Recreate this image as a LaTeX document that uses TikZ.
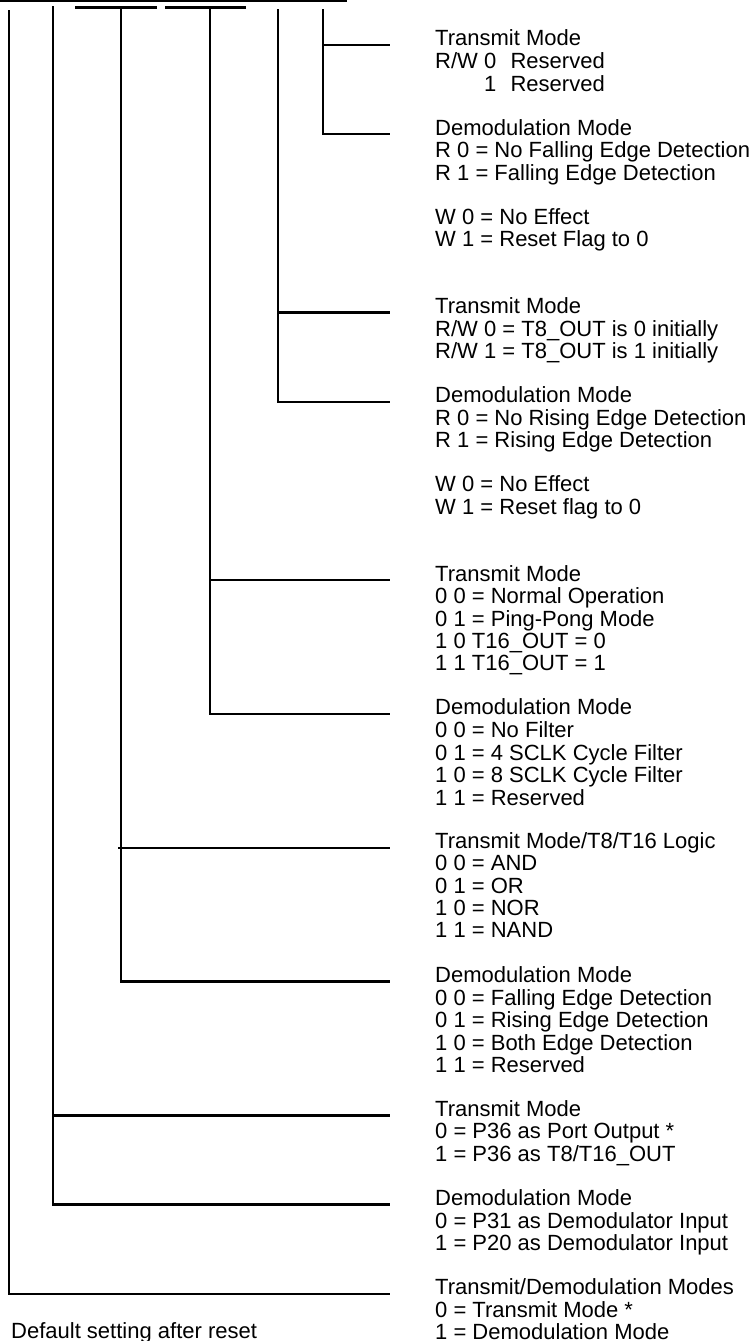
\documentclass[tikz,border=0pt]{standalone}
\usepackage{fontspec}
\setmainfont{Liberation Sans}
\newcommand\blk[1]{\begin{tabular}[t]{@{}l@{}}#1\end{tabular}}
\begin{document}
\begin{tikzpicture}[x=1pt,y=-1pt,
  wire/.style={line width=2.4pt},
  lbl/.style={anchor=base west,inner sep=0pt,font=\fontsize{22}{22.3}\selectfont}]
\useasboundingbox (0,0) rectangle (754,1341);
\clip (0,0) rectangle (754,1341);
% register bars
\draw[wire] (0,1.1) -- (347,1.1);
\draw[wire] (75,7.3) -- (157,7.3);
\draw[wire] (165,7.3) -- (246,7.3);
% text blocks
\node[lbl] (A1) at (435,45.8) {\blk{Transmit Mode\\R/W 0\hspace{0.65em}Reserved\\\phantom{R/W }1\hspace{0.65em}Reserved}};
\node[lbl] (A2) at (435,135.0) {\blk{Demodulation Mode\\R 0 = No Falling Edge Detection\\R 1 = Falling Edge Detection}};
\node[lbl] (A3) at (435,224.2) {\blk{W 0 = No Effect\\W 1 = Reset Flag to 0}};
\node[lbl] (B1) at (435,313.4) {\blk{Transmit Mode\\R/W 0 = T8\_OUT is 0 initially\\R/W 1 = T8\_OUT is 1 initially}};
\node[lbl] (B2) at (435,402.6) {\blk{Demodulation Mode\\R 0 = No Rising Edge Detection\\R 1 = Rising Edge Detection}};
\node[lbl] (B3) at (435,491.8) {\blk{W 0 = No Effect\\W 1 = Reset flag to 0}};
\node[lbl] (C1) at (435,581.0) {\blk{Transmit Mode\\0 0 = Normal Operation\\0 1 = Ping-Pong Mode\\1 0 T16\_OUT = 0\\1 1 T16\_OUT = 1}};
\node[lbl] (C2) at (435,714.8) {\blk{Demodulation Mode\\0 0 = No Filter\\0 1 = 4 SCLK Cycle Filter\\1 0 = 8 SCLK Cycle Filter\\1 1 = Reserved}};
\node[lbl] (D1) at (435,848.6) {\blk{Transmit Mode/T8/T16 Logic\\0 0 = AND\\0 1 = OR\\1 0 = NOR\\1 1 = NAND}};
\node[lbl] (D2) at (435,982.4) {\blk{Demodulation Mode\\0 0 = Falling Edge Detection\\0 1 = Rising Edge Detection\\1 0 = Both Edge Detection\\1 1 = Reserved}};
\node[lbl] (E1) at (435,1116.2) {\blk{Transmit Mode\\0 = P36 as Port Output *\\1 = P36 as T8/T16\_OUT}};
\node[lbl] (E2) at (435,1205.4) {\blk{Demodulation Mode\\0 = P31 as Demodulator Input\\1 = P20 as Demodulator Input}};
\node[lbl] (F1) at (435,1294.6) {\blk{Transmit/Demodulation Modes\\0 = Transmit Mode *\\1 = Demodulation Mode}};
\node[lbl] (note) at (11,1338.6) {Default setting after reset};
% connector ends
\coordinate (eA1) at (390,45.0);
\coordinate (eA2) at (390,134.2);
\coordinate (eB1) at (390,312.6);
\coordinate (eB2) at (390,401.8);
\coordinate (eC1) at (390,580.2);
\coordinate (eC2) at (390,714.0);
\coordinate (eD1) at (390,847.8);
\coordinate (eD2) at (390,981.6);
\coordinate (eE1) at (390,1115.4);
\coordinate (eE2) at (390,1204.6);
\coordinate (eF1) at (390,1293.8);
% vertical tops
\coordinate (t1) at (9,10);
\coordinate (t2) at (53,6);
\coordinate (t3) at (121,7.3);
\coordinate (t4) at (210,7.3);
\coordinate (t5) at (278,9.3);
\coordinate (t6) at (323,9.3);
% connectors
\draw[wire] (t6) |- (eA2);
\draw[wire] (t6 |- eA1) -- (eA1);
\draw[wire] (t5) |- (eB2);
\draw[wire] (t5 |- eB1) -- (eB1);
\draw[wire] (t4) |- (eC2);
\draw[wire] (t4 |- eC1) -- (eC1);
\draw[wire] (t3) |- (eD2);
\draw[wire] ([xshift=-3pt]t3 |- eD1) -- (eD1);
\draw[wire] (t2) |- (eE2);
\draw[wire] (t2 |- eE1) -- (eE1);
\draw[wire] (t1) |- (eF1);
\end{tikzpicture}
\end{document}
